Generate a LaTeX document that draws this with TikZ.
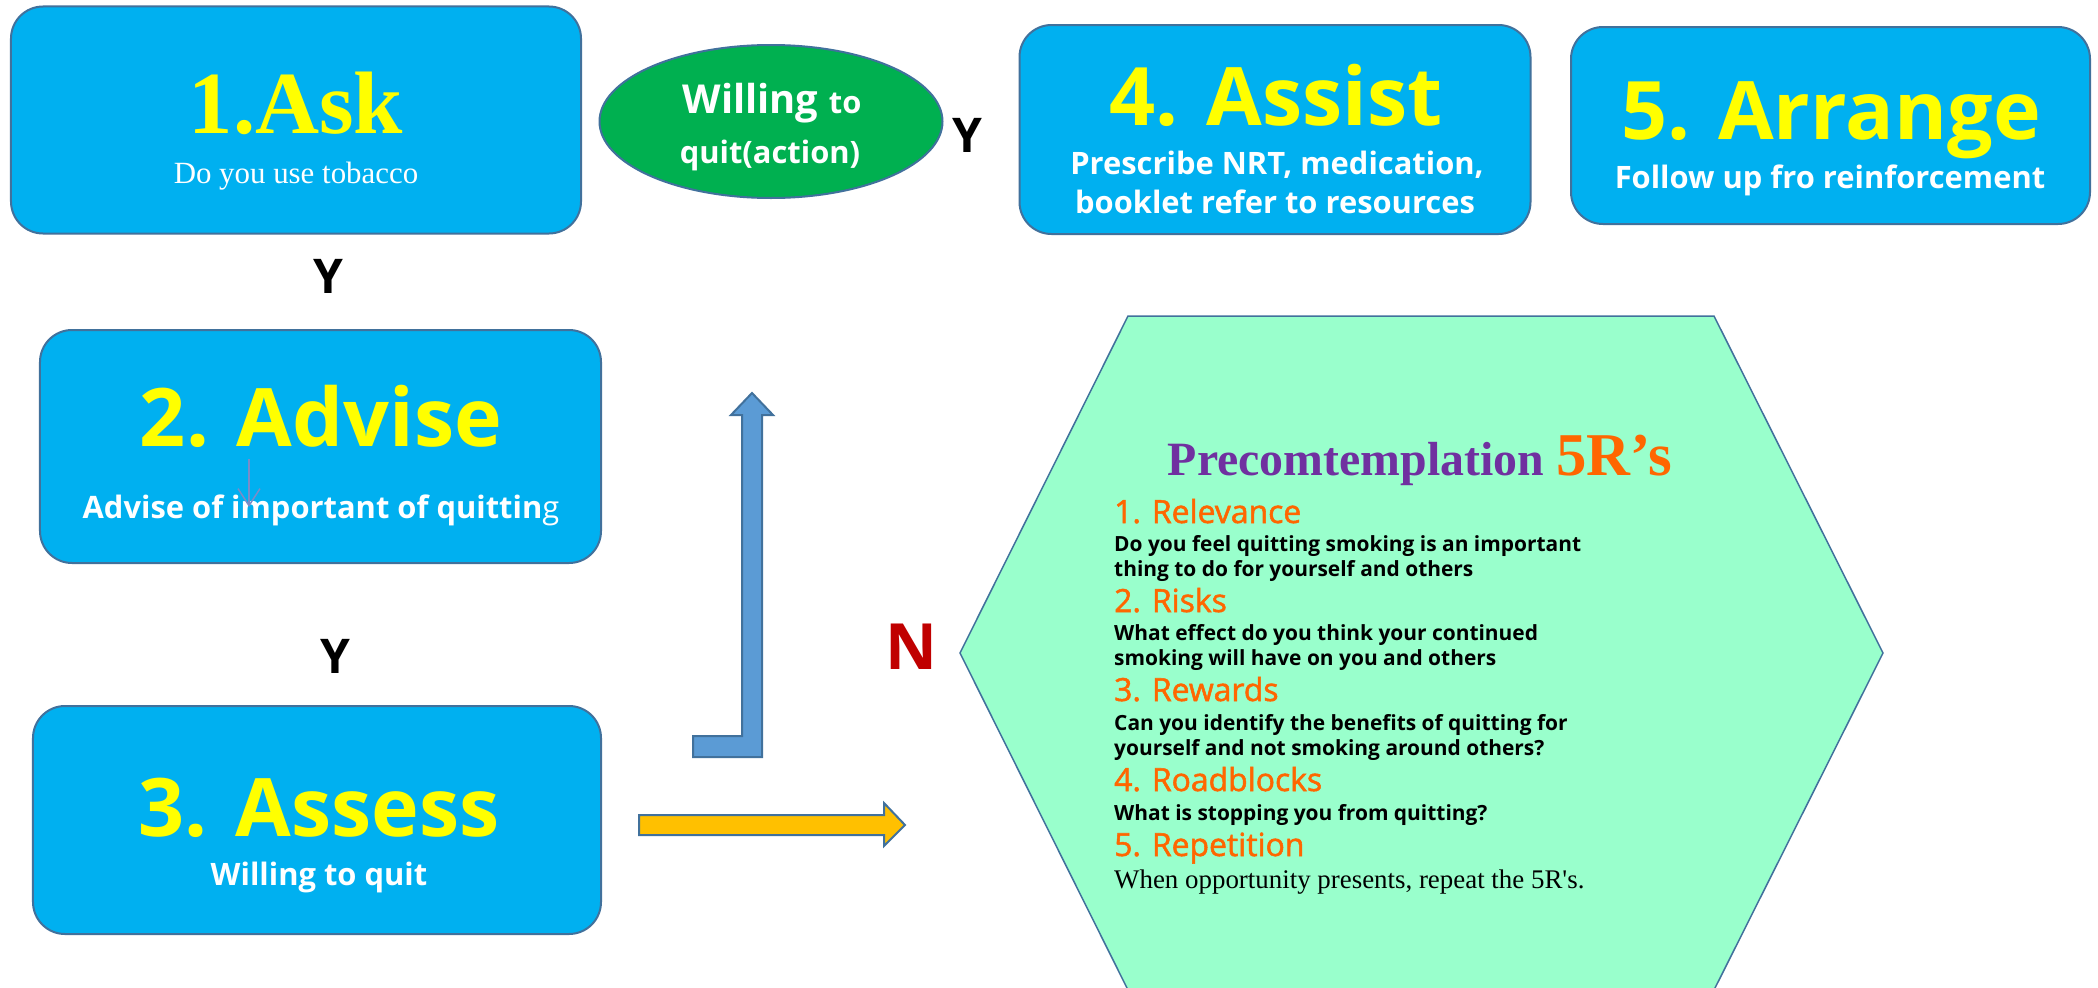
\documentclass[tikz,border=0pt]{standalone}
\usepackage{fontspec}
\setmainfont{Liberation Serif}
\newfontfamily\gothic{Open Sans}
\newfontface\gothicmid{Open Sans}[FakeBold=1.6]
\usetikzlibrary{arrows.meta,shapes.geometric}

\definecolor{boxblue}{HTML}{00B0F0}
\definecolor{edgeblue}{HTML}{41719C}
\definecolor{actgreen}{HTML}{00B050}
\definecolor{mint}{HTML}{99FFCC}
\definecolor{arrowblue}{HTML}{5B9BD5}
\definecolor{tickblue}{HTML}{7A8CC8}
\definecolor{arrowgold}{HTML}{FFC000}
\definecolor{titleyellow}{HTML}{FFFF00}
\definecolor{headorange}{HTML}{FF6600}
\definecolor{rpurple}{HTML}{7030A0}
\definecolor{nored}{HTML}{C00000}

\tikzset{
  stepbox/.style={draw=edgeblue, line width=2bp, fill=boxblue, rounded corners=32bp},
  steptitle/.style={anchor=base, inner sep=0pt, text=titleyellow,
    font=\gothic\bfseries\fontsize{81}{81}\selectfont},
  stepnote/.style={anchor=base, inner sep=0pt, text=white,
    font=\gothic\bfseries\fontsize{31}{31}\selectfont},
  answer/.style={anchor=base, inner sep=0pt, font=\gothic\bfseries\fontsize{48}{48}\selectfont},
  rhead/.style={anchor=base west, inner sep=0pt, text=headorange,
    font=\gothicmid\fontsize{32}{32}\selectfont},
  rtext/.style={anchor=base west, inner sep=0pt, font=\gothic\bfseries\fontsize{21}{21}\selectfont},
  blockarrow/.style={draw=edgeblue, line width=2bp, line join=miter},
}

\begin{document}
\begin{tikzpicture}[x=1bp,y=-1bp]
  \fill[white] (0,0) rectangle (2098,988);
  \useasboundingbox (0,0) rectangle (2098,988);
%%
  % Node: Ask
  \node[stepbox, minimum width=570bp, minimum height=227bp] (ask) at (296,120) {};
  \node[anchor=base, inner sep=0pt, text=titleyellow, font=\bfseries\fontsize{89}{89}\selectfont]
    (askTitle) at (296,133) {1.Ask};
  \node[anchor=base, inner sep=0pt, text=white, font=\fontsize{31}{31}\selectfont]
    (askNote) at (296,183) {Do you use tobacco};
  % Node: Willing
  \node[ellipse, draw=edgeblue, line width=2bp, fill=actgreen, inner sep=0pt,
    minimum width=343bp, minimum height=153bp] (willing) at (771,121.5) {};
  \node[anchor=base, inner sep=0pt, text=white, font=\gothic\bfseries]
    (willingA) at (772,113) {\fontsize{40}{40}\selectfont Willing \fontsize{31}{31}\selectfont to};
  \node[anchor=base, inner sep=0pt, text=white, font=\gothic\bfseries\fontsize{31}{31}\selectfont]
    (willingB) at (770,163) {quit(action)};
  \node[answer] (yesAct) at (967,152) {Y};
  % Node: Assist
  \node[stepbox, minimum width=511bp, minimum height=209bp] (assist) at (1275,129.5) {};
  \node[steptitle] (assistTitle) at (1276,125) {4. Assist};
  \node[stepnote] (assistNoteA) at (1277,174) {Prescribe NRT, medication,};
  \node[stepnote] (assistNoteB) at (1275,213) {booklet refer to resources};
  % Node: Arrange
  \node[stepbox, minimum width=519bp, minimum height=197bp] (arrange) at (1830.5,125.5) {};
  \node[steptitle] (arrangeTitle) at (1831,139) {5. Arrange};
  \node[stepnote] (arrangeNote) at (1830,188) {Follow up fro reinforcement};
  % Edge: Ask -> Advise
  \node[answer] (yesAsk) at (328,293) {Y};
  % Node: Advise
  \node[stepbox, minimum width=561bp, minimum height=233bp] (advise) at (320.5,446.5) {};
  \node[steptitle] (adviseTitle) at (321,446) {2. Advise};
  \node[stepnote] (adviseNote) at (321,518) {Advise of important of quittin{\mdseries g}};
  \coordinate (tickTop) at (249,459);
  \coordinate (tickEnd) at (249,507);
  \draw[tickblue, line width=1.5bp, -{Straight Barb[length=17bp,width=22bp]}] (tickTop) -- (tickEnd);
  % Edge: Advise -> Assess
  \node[answer] (yesAdvise) at (335,673) {Y};
  % Node: Assess
  \node[stepbox, minimum width=568bp, minimum height=228bp] (assess) at (317,820) {};
  \node[steptitle] (assessTitle) at (319,836) {3. Assess};
  \node[stepnote] (assessNote) at (319,885) {Willing to quit};
  % Edge: Assess -> Willing (turning arrow)
  \filldraw[blockarrow, fill=arrowblue] (693,736) -- (742,736) -- (742,415) -- (731,415)
    -- (752,393) -- (773,415) -- (762,415) -- (762,757) -- (693,757) -- cycle;
  % Edge: Assess -> Precontemplation
  \filldraw[blockarrow, fill=arrowgold] (639,815) -- (884,815) -- (884,803) -- (905,825)
    -- (884,846) -- (884,835) -- (639,835) -- cycle;
  \node[anchor=base, inner sep=0pt, text=nored, font=\gothic\bfseries\fontsize{64}{64}\selectfont]
    (no) at (911,669) {N};
  % Node: Precontemplation
  \filldraw[draw=edgeblue, line width=1.5bp, fill=mint] (1128,316) -- (1714,316) -- (1883,653)
    -- (1714,990) -- (1128,990) -- (960,653) -- cycle;
  \node[anchor=base, inner sep=0pt, font=\bfseries] (precon) at (1420,475)
    {\textcolor{rpurple}{\fontsize{48}{48}\selectfont Precomtemplation}\hspace{12bp}%
     \textcolor{headorange}{\fontsize{61}{61}\selectfont 5R’s}};
  \node[rhead] (relevance) at (1114,523) {1. Relevance};
  \node[rtext] (relevanceA) at (1114,551) {Do you feel quitting smoking is an important};
  \node[rtext] (relevanceB) at (1114,576) {thing to do for yourself and others};
  \node[rhead] (risks) at (1114,612) {2. Risks};
  \node[rtext] (risksA) at (1114,640) {What effect do you think your continued};
  \node[rtext] (risksB) at (1114,665) {smoking will have on you and others};
  \node[rhead] (rewards) at (1114,701) {3. Rewards};
  \node[rtext] (rewardsA) at (1114,730) {Can you identify the benefits of quitting for};
  \node[rtext] (rewardsB) at (1114,755) {yourself and not smoking around others?};
  \node[rhead] (roadblocks) at (1114,791) {4. Roadblocks};
  \node[rtext] (roadblocksA) at (1114,820) {What is stopping you from quitting?};
  \node[rhead] (repetition) at (1114,856) {5. Repetition};
  \node[anchor=base west, inner sep=0pt, font=\fontsize{27}{27}\selectfont]
    (repetitionA) at (1114,888) {When opportunity presents, repeat the 5R\textquotesingle s.};
%
\end{tikzpicture}
\end{document}
